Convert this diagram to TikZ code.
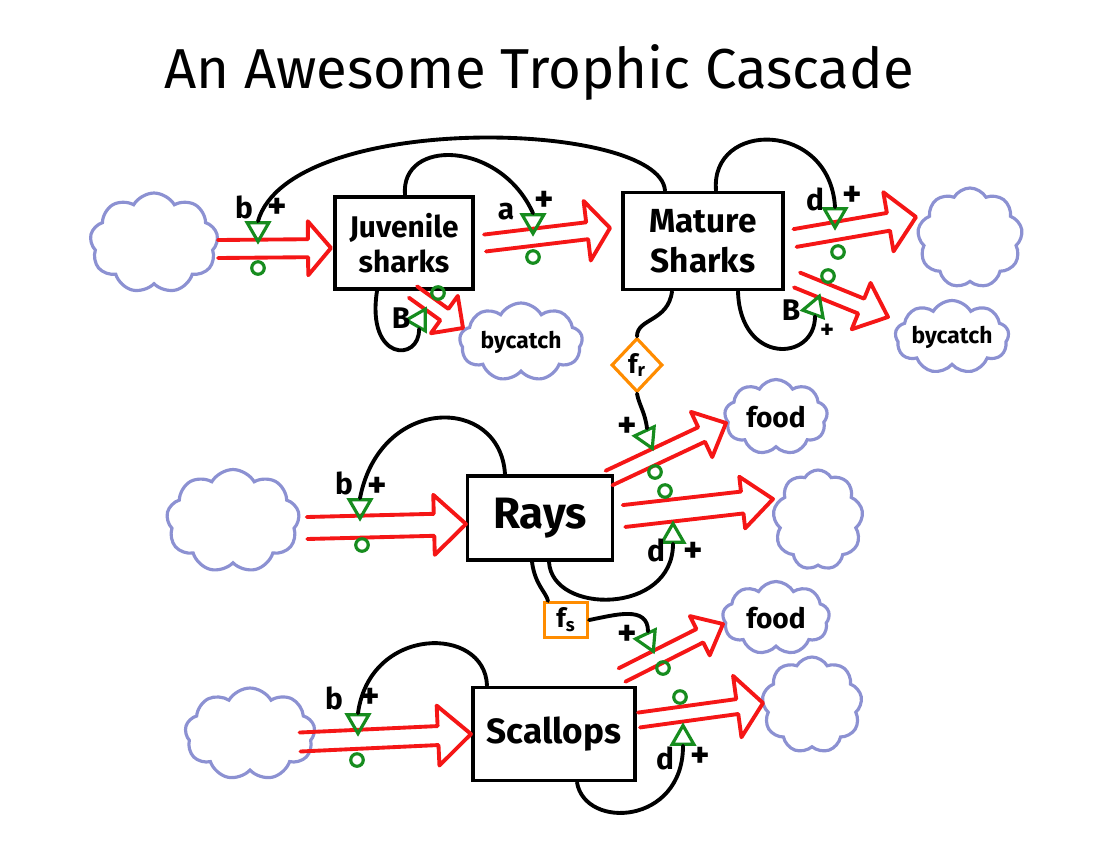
\documentclass[tikz,border=0pt]{standalone}
\usepackage{fontspec}
\setmainfont{Fira Sans}
\usetikzlibrary{shapes.geometric,shapes.symbols,calc}
\definecolor{flowred}{RGB}{245,22,22}
\definecolor{cloudblue}{RGB}{140,145,210}
\definecolor{valvegreen}{RGB}{22,140,30}
\definecolor{auxorange}{RGB}{255,140,0}
% #1 start, #2 tip, #3 pipe half width, #4 head length, #5 head half width
\newcommand\flowpipe[5]{%
  \path ($(#2)!#4!(#1)$) coordinate (hb);
  \draw[flow] ($(#1)!#3!90:(#2)$) -- ($(hb)!#3!90:(#2)$) -- ($(hb)!#5!90:(#2)$) -- (#2)
     -- ($(hb)!#5!-90:(#2)$) -- ($(hb)!#3!-90:(#2)$) -- ($(#1)!#3!-90:(#2)$);
}
\begin{document}
\begin{tikzpicture}[x=0.02cm,y=-0.02cm,
  stockbox/.style={draw, line width=2.2pt, inner sep=0pt, align=center},
  flow/.style={draw=flowred, line width=2.2pt, line join=round, line cap=round},
  link/.style={draw, line width=2.2pt, line cap=round},
  cloudnode/.style={cloud, cloud puffs=9, cloud puff arc=120, cloud ignores aspect,
     draw=cloudblue, line width=1.8pt, fill=white, inner sep=0pt},
  valve/.style={regular polygon, regular polygon sides=3, draw=valvegreen,
     line width=1.8pt, minimum size=0.5cm, inner sep=0pt},
  src/.style={circle, draw=valvegreen, line width=1.8pt, minimum size=0.25cm, inner sep=0pt},
  lab/.style={font=\fontsize{17}{17}\selectfont\bfseries, inner sep=0pt},
  plus/.style={font=\fontsize{21}{21}\selectfont\bfseries, inner sep=0pt},
  aux/.style={draw=auxorange, line width=1.8pt, inner sep=0pt, font=\fontsize{15}{15}\selectfont\bfseries}
]
\useasboundingbox[fill=white] (0,0) rectangle (1098,853);

% title
\node[inner sep=0pt] (title) at (539,73) {\resizebox{15.0cm}{!}{\fontsize{30}{30}\selectfont An Awesome Trophic Cascade}};

% clouds
\node[cloudnode, minimum width=2.56cm, minimum height=2.0cm] (c1) at (154,243) {};
\node[cloudnode, minimum width=2.1cm, minimum height=2.0cm] (c2) at (970,238) {};
\node[cloudnode, minimum width=2.46cm, minimum height=1.56cm, font=\fontsize{13}{13}\selectfont\bfseries] (c3) at (521,342) {bycatch};
\node[cloudnode, minimum width=2.2cm, minimum height=1.46cm, font=\fontsize{13}{13}\selectfont\bfseries] (c4) at (952,337) {bycatch};
\node[cloudnode, minimum width=2.66cm, minimum height=2.06cm] (c5) at (233,521) {};
\node[cloudnode, minimum width=2.06cm, minimum height=1.5cm, font=\fontsize{16}{16}\selectfont\bfseries] (c6) at (776,417) {food};
\node[cloudnode, minimum width=1.8cm, minimum height=2.0cm] (c7) at (818,520) {};
\node[cloudnode, minimum width=2.14cm, minimum height=1.46cm, font=\fontsize{16}{16}\selectfont\bfseries] (c8) at (776,618) {food};
\node[cloudnode, minimum width=2.6cm, minimum height=1.84cm] (c9) at (250,734) {};
\node[cloudnode, minimum width=2.0cm, minimum height=1.92cm] (c10) at (812,705) {};

% stocks
\node[stockbox, minimum width=2.76cm, minimum height=1.84cm, font=\fontsize{17}{20}\selectfont\bfseries] (js) at (404,243) {Juvenile\\sharks};
\node[stockbox, minimum width=3.2cm, minimum height=1.94cm, font=\fontsize{19}{23}\selectfont\bfseries] (ms) at (703,241) {Mature\\Sharks};
\node[stockbox, minimum width=2.9cm, minimum height=1.68cm, font=\fontsize{25}{25}\selectfont\bfseries] (rays) at (540,518) {Rays};
\node[stockbox, minimum width=3.24cm, minimum height=1.86cm, font=\fontsize{20}{20}\selectfont\bfseries] (sc) at (554,734) {Scallops};

% auxiliaries
\node[aux, diamond, minimum width=1.02cm, minimum height=1.08cm] (fr) at (637,365) {f\textsubscript{r}};
\node[aux, rectangle, minimum width=0.86cm, minimum height=0.7cm] (fs) at (566,620) {f\textsubscript{s}};

% flow endpoints
\coordinate (a1) at (218,249); \coordinate (b1) at (331,248);
\coordinate (a2) at (485,243); \coordinate (b2) at (610,228);
\coordinate (a3) at (413,292); \coordinate (b3) at (463,328);
\coordinate (a4) at (795,238); \coordinate (b4) at (916,217);
\coordinate (a5) at (797,280); \coordinate (b5) at (888,317);
\coordinate (a6) at (307,528); \coordinate (b6) at (466,524);
\coordinate (a7) at (609,478); \coordinate (b7) at (726,423);
\coordinate (a8) at (624,516); \coordinate (b8) at (773,499);
\coordinate (a9) at (300,742); \coordinate (b9) at (471,734);
\coordinate (a10) at (622,675); \coordinate (b10) at (723,624);
\coordinate (a11) at (639,720); \coordinate (b11) at (763,703);

\flowpipe{a1}{b1}{0.18cm}{0.46cm}{0.54cm}
\flowpipe{a2}{b2}{0.17cm}{0.46cm}{0.6cm}
\flowpipe{a3}{b3}{0.14cm}{0.46cm}{0.46cm}
\flowpipe{a4}{b4}{0.18cm}{0.56cm}{0.6cm}
\flowpipe{a5}{b5}{0.16cm}{0.58cm}{0.5cm}
\flowpipe{a6}{b6}{0.22cm}{0.64cm}{0.6cm}
\flowpipe{a7}{b7}{0.16cm}{0.54cm}{0.5cm}
\flowpipe{a8}{b8}{0.22cm}{0.62cm}{0.52cm}
\flowpipe{a9}{b9}{0.19cm}{0.66cm}{0.6cm}
\flowpipe{a10}{b10}{0.15cm}{0.52cm}{0.44cm}
\flowpipe{a11}{b11}{0.15cm}{0.52cm}{0.62cm}

% valves
\node[valve, shape border rotate=180] (v1) at (258,229) {};
\node[valve, shape border rotate=180] (v2) at (533,221) {};
\node[valve, shape border rotate=90] (v3) at (419,320) {};
\node[valve, shape border rotate=180] (v4) at (835,215) {};
\node[valve, shape border rotate=100] (v5) at (815,308) {};
\node[valve, shape border rotate=180] (v6) at (360,506) {};
\node[valve, shape border rotate=205] (v7) at (647,437) {};
\node[valve] (v8) at (673,536) {};
\node[valve, shape border rotate=180] (v9) at (358,721) {};
\node[valve, shape border rotate=205] (v10) at (648,640) {};
\node[valve] (v11) at (683,738) {};

% source markers
\node[src] (o1) at (258,268) {};
\node[src] (o2) at (533,257) {};
\node[src] (o3) at (438,293) {};
\node[src] (o4) at (838,252) {};
\node[src] (o5) at (828,276) {};
\node[src] (o6) at (362,545) {};
\node[src] (o7) at (655,472) {};
\node[src] (o8) at (665,491) {};
\node[src] (o9) at (357,760) {};
\node[src] (o10) at (663,668) {};
\node[src] (o11) at (680,697) {};

% links
\draw[link] (665,0 |- ms.north) .. controls (660,120) and (290,110) .. (v1.north);
\draw[link] (405,0 |- js.north) .. controls (400,138) and (500,140) .. (v2.north);
\draw[link] (716,0 |- ms.north) .. controls (710,120) and (830,120) .. (v4.north);
\draw[link] (377,0 |- js.south) .. controls (366,362) and (420,362) .. (v3.south);
\draw[link] (738,0 |- ms.south) .. controls (740,365) and (815,362) .. (v5.south);
\draw[link] (672,0 |- ms.south) .. controls (668,322) and (637,318) .. (fr.north);
\draw[link] (fr.south) .. controls (639,405) and (645,412) .. (v7.north);
\draw[link] (505,0 |- rays.north) .. controls (500,395) and (380,395) .. (v6.north);
\draw[link] (532,0 |- rays.south) .. controls (535,585) and (546,592) .. (548,0 |- fs.north);
\draw[link] (549,0 |- rays.south) .. controls (552,615) and (673,615) .. (v8.south);
\draw[link] (fs.east) .. controls (615,615) and (648,605) .. (v10.north);
\draw[link] (487,0 |- sc.north) .. controls (485,625) and (370,625) .. (v9.north);
\draw[link] (577,0 |- sc.south) .. controls (585,830) and (683,825) .. (v11.south);

% labels
\node[lab] (l1) at (244,207) {b};
\node[plus] (l2) at (277,208) {+};
\node[lab] (l3) at (506,212) {a};
\node[plus] (l4) at (544,201) {+};
\node[lab] (l5) at (401,318) {B};
\node[lab] (l6) at (815,199) {d};
\node[plus] (l7) at (852,196) {+};
\node[lab] (l8) at (791,310) {B};
\node[plus, font=\fontsize{15}{15}\selectfont\bfseries] (l9) at (827,331) {+};
\node[lab] (l10) at (344,483) {b};
\node[plus] (l11) at (377,487) {+};
\node[plus] (l12) at (627,427) {+};
\node[lab] (l13) at (656,550) {d};
\node[plus] (l14) at (693,552) {+};
\node[lab] (l15) at (334,698) {b};
\node[plus] (l16) at (370,698) {+};
\node[plus] (l17) at (627,635) {+};
\node[lab] (l18) at (665,758) {d};
\node[plus] (l19) at (700,757) {+};
\end{tikzpicture}
\end{document}
